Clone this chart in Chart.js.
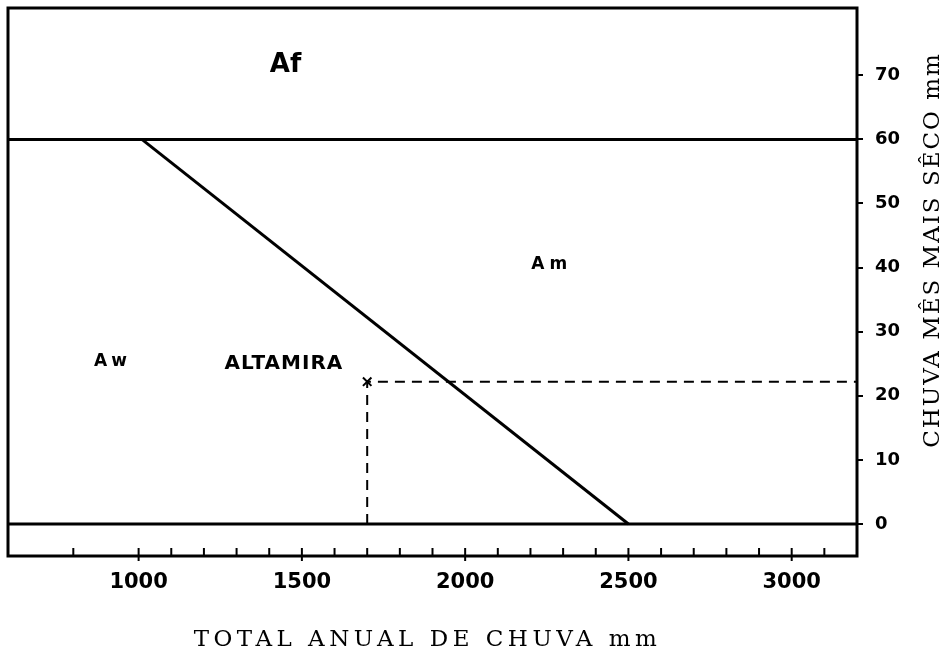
<!DOCTYPE html>
<html>
<head>
<meta charset="utf-8">
<script src="https://cdn.jsdelivr.net/npm/chart.js"></script>
<style>
  body { margin: 0; background: #fff; }
  #caixa { width: 944px; height: 654px; }
</style>
</head>
<body>
<div id="caixa"><canvas id="grafico"></canvas></div>
<script>
const xMin = 600
const xMax = 3200
const yMin = -5
const yMax = 80.5

const xTicks = [1000, 1500, 2000, 2500, 3000]
const xTicksMenores = [800, 1000, 1100, 1200, 1300, 1400, 1500, 1600, 1700, 1800, 1900, 2000,
    2100, 2200, 2300, 2400, 2500, 2600, 2700, 2800, 2900, 3000, 3100]
const yTicks = [0, 10, 20, 30, 40, 50, 60, 70]

// limites de Köppen (chuva do mês mais seco x total anual)
const limiteAf = 60
const limiteAmX = [1010, 2500]
const limiteAmY = [60, 0]

// posto de Altamira
const altamiraX = 1700
const altamiraY = 22.2

const regioes = ['Af', 'Am', 'Aw', 'ALTAMIRA']
const regioesX = [1450, 2265, 920, 1445]
const regioesY = [71.5, 40.5, 25.4, 25]
const regioesFonte = ['bold 26px "DejaVu Sans"', 'bold 17px "DejaVu Sans"', 'bold 17px "DejaVu Sans"', 'bold 20px "DejaVu Sans"']
const regioesEspaco = ['0px', '5px', '4px', '1px']

const tituloX = 'TOTAL ANUAL DE CHUVA mm'
const tituloY = 'CHUVA MÊS MAIS SÊCO mm'

Chart.defaults.color = '#000000'
Chart.defaults.font.family = '"DejaVu Sans"'

const moldura = {
    id: 'moldura',
    afterDatasetsDraw(chart) {
        const ctx = chart.ctx
        const a = chart.chartArea
        const x = chart.scales.x
        ctx.save()
        ctx.strokeStyle = '#000'
        ctx.lineWidth = 3
        ctx.strokeRect(a.left, a.top, a.right - a.left, a.bottom - a.top)

        // tracinhos do eixo x, para dentro
        ctx.lineWidth = 2
        xTicksMenores.forEach(v => {
            const px = x.getPixelForValue(v)
            const grande = xTicks.includes(v)
            ctx.beginPath()
            ctx.moveTo(px, a.bottom - 8)
            ctx.lineTo(px, a.bottom + (grande ? 5 : 0))
            ctx.stroke()
        })

        // nomes das regiões
        ctx.fillStyle = '#000'
        ctx.textAlign = 'center'
        ctx.textBaseline = 'middle'
        regioes.forEach((r, i) => {
            ctx.font = regioesFonte[i]
            ctx.letterSpacing = regioesEspaco[i]
            ctx.fillText(r, x.getPixelForValue(regioesX[i]), chart.scales.y.getPixelForValue(regioesY[i]))
        })

        // títulos dos eixos
        ctx.font = '23px "DejaVu Serif"'
        ctx.letterSpacing = '4.5px'
        ctx.fillText(tituloX, (a.left + a.right) / 2 - 5, a.bottom + 84)

        ctx.letterSpacing = '2px'
        ctx.translate(a.right + 76, (a.top + a.bottom) / 2 - 32)
        ctx.rotate(-Math.PI / 2)
        ctx.fillText(tituloY, 0, 0)
        ctx.restore()
    }
}

const semPadding = s => {
    s.paddingTop = 0
    s.paddingBottom = 0
    s.paddingLeft = 0
    s.paddingRight = 0
}

new Chart(document.getElementById('grafico'), {
    type: 'scatter',
    data: {
        datasets: [
            {
                data: [{x: xMin, y: limiteAf}, {x: xMax, y: limiteAf}],
                showLine: true, borderColor: '#000', borderWidth: 3, pointRadius: 0
            },
            {
                data: [{x: xMin, y: 0}, {x: xMax, y: 0}],
                showLine: true, borderColor: '#000', borderWidth: 3, pointRadius: 0
            },
            {
                data: limiteAmX.map((v, i) => ({x: v, y: limiteAmY[i]})),
                showLine: true, borderColor: '#000', borderWidth: 3, pointRadius: 0
            },
            {
                data: [{x: altamiraX, y: 0}, {x: altamiraX, y: altamiraY}, {x: xMax, y: altamiraY}],
                showLine: true, borderColor: '#000', borderWidth: 2, borderDash: [10, 7], pointRadius: 0
            },
            {
                data: [{x: altamiraX, y: altamiraY}],
                pointStyle: 'crossRot', pointRadius: 6, borderColor: '#000', borderWidth: 2
            }
        ]
    },
    options: {
        responsive: true,
        maintainAspectRatio: false,
        animation: false,
        layout: { padding: { left: 6, top: 7 } },
        plugins: {
            legend: { display: false },
            tooltip: { enabled: false }
        },
        scales: {
            x: {
                type: 'linear',
                min: xMin,
                max: xMax,
                afterBuildTicks: s => { s.ticks = xTicks.map(v => ({value: v})) },
                afterFit: s => { s.height = 98; semPadding(s) },
                grid: { drawOnChartArea: false, drawTicks: false },
                border: { display: false },
                ticks: {
                    font: { size: 21, weight: 'bold' },
                    padding: 14,
                    maxRotation: 0,
                    autoSkip: false,
                    callback: v => String(v)
                }
            },
            y: {
                position: 'right',
                min: yMin,
                max: yMax,
                afterBuildTicks: s => { s.ticks = yTicks.map(v => ({value: v})) },
                afterFit: s => { s.width = 87; semPadding(s) },
                grid: { drawOnChartArea: false, drawTicks: true, tickLength: 6, color: '#000', lineWidth: 2 },
                border: { display: false },
                ticks: {
                    font: { size: 18, weight: 'bold' },
                    padding: 12,
                    callback: v => String(v)
                }
            }
        }
    },
    plugins: [moldura]
})
</script>
</body>
</html>
